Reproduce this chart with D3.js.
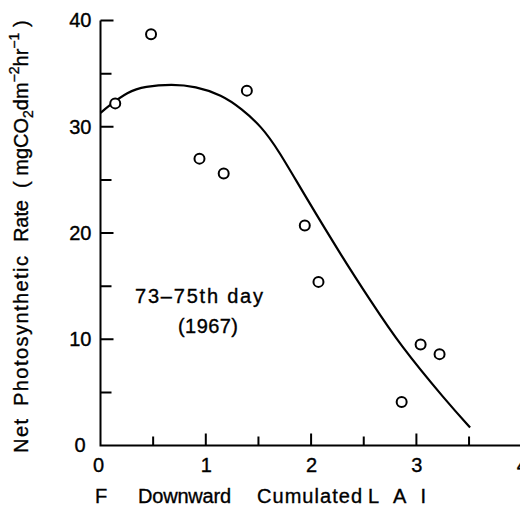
<!DOCTYPE html>
<html>
<head>
<meta charset="utf-8">
<script src="https://cdn.jsdelivr.net/npm/d3@7"></script>
<style>
  html, body { margin: 0; padding: 0; background: #fff; }
  svg { display: block; }
  text { font-family: "Liberation Sans", Arial, sans-serif; fill: #000; stroke: #000; stroke-width: 0.35px; }
</style>
</head>
<body>
<svg id="chart" width="520" height="506"></svg>
<script>
// Observed net photosynthetic rate vs. downward cumulated LAI
const obsLAI  = [0.14, 0.48, 0.94, 1.17, 1.39, 1.94, 2.07, 2.86, 3.04, 3.22];
const obsRate = [32.2, 38.7, 27.0, 25.6, 33.4, 20.7, 15.4, 4.1, 9.5, 8.6];

// Fitted response curve
const fitLAI  = [0, 0.07, 0.26, 0.42, 0.68, 0.90, 1.15, 1.34, 1.53, 1.69, 1.93, 2.31, 2.56, 2.84, 3.29, 3.51];
const fitRate = [31.3, 31.9, 33.3, 33.8, 34.0, 33.8, 33.0, 31.7, 30.0, 27.8, 23.7, 17.5, 13.7, 9.5, 4.1, 1.7];

// Axis ticks
const xMajorTicks = [0, 1, 2, 3, 4];
const xMinorTicks = [0.5, 1.5, 2.5, 3.5];
const yMajorTicks = [0, 10, 20, 30, 40];
const yMinorTicks = [5, 15, 25, 35];

const svg = d3.select("#chart");

const x = d3.scaleLinear().domain([0, 4]).range([100.5, 521.7]);
const y = d3.scaleLinear().domain([0, 40]).range([445.5, 20.5]);

// axis labels
const gx = svg.append("g").attr("transform", `translate(0,${y(0)})`)
  .call(d3.axisBottom(x).tickValues(xMajorTicks).tickSize(0)
    .tickPadding(12.5).tickFormat(d3.format("d")));
const gy = svg.append("g").attr("transform", `translate(${x(0)},0)`)
  .call(d3.axisLeft(y).tickValues(yMajorTicks).tickSize(0)
    .tickPadding(9).tickFormat(d3.format("d")));
svg.selectAll(".domain").remove();
svg.selectAll(".tick text").attr("font-size", 20)
  .attr("font-family", "'Liberation Sans', Arial, sans-serif").attr("fill", "#000");
gy.selectAll(".tick text").filter(d => d === 0).attr("dx", -6);
gx.selectAll(".tick text").filter(d => d === 0).attr("dx", -2.5);

// axis frame and inward tick marks
const frame = d3.path();
frame.moveTo(x(0), y(40)); frame.lineTo(x(0), y(0)); frame.lineTo(x(4), y(0));
xMajorTicks.filter(d => d > 0).forEach(d => { frame.moveTo(x(d), y(0)); frame.lineTo(x(d), y(0) - 12); });
xMinorTicks.forEach(d => { frame.moveTo(x(d), y(0)); frame.lineTo(x(d), y(0) - 9); });
yMajorTicks.filter(d => d > 0).forEach(d => { frame.moveTo(x(0), y(d)); frame.lineTo(x(0) + 13, y(d)); });
yMinorTicks.forEach(d => { frame.moveTo(x(0), y(d)); frame.lineTo(x(0) + 11, y(d)); });
svg.append("path").attr("class", "frame").attr("d", frame.toString())
  .attr("fill", "none").attr("stroke", "#000").attr("stroke-width", 2);

// fitted curve
const line = d3.line()
  .x(d => x(d[0])).y(d => y(d[1]))
  .curve(d3.curveBasis);
svg.append("path")
  .datum(fitLAI.map((v, i) => [v, fitRate[i]]))
  .attr("d", line)
  .attr("fill", "none").attr("stroke", "#000").attr("stroke-width", 2.2);

// observations
svg.append("g").selectAll("circle")
  .data(obsLAI.map((v, i) => [v, obsRate[i]]))
  .join("circle")
  .attr("cx", d => x(d[0])).attr("cy", d => y(d[1]))
  .attr("r", 5)
  .attr("fill", "#fff").attr("stroke", "#000").attr("stroke-width", 2);

// annotation
svg.append("text").attr("x", 135).attr("y", 303).attr("font-size", 20)
  .attr("textLength", 128).text("73–75th day");
svg.append("text").attr("x", 178).attr("y", 333).attr("font-size", 20)
  .attr("textLength", 60).text("(1967)");

// x axis title
const xt = [
  { t: "F", x: 95, len: null },
  { t: "Downward", x: 138, len: 93 },
  { t: "Cumulated", x: 257, len: 105 },
  { t: "LAI", x: 368, len: 58 }
];
xt.forEach(d => {
  const el = svg.append("text").attr("x", d.x).attr("y", 503).attr("font-size", 20).text(d.t);
  if (d.len) el.attr("textLength", d.len);
});

// y axis title (rotated, reads bottom to top)
const yt = svg.append("g").attr("transform", "translate(28,0) rotate(-90)");
yt.append("text").attr("x", -453).attr("y", 0).attr("font-size", 20)
  .attr("textLength", 34).text("Net");
yt.append("text").attr("x", -406).attr("y", 0).attr("font-size", 20)
  .attr("textLength", 150).text("Photosynthetic");
yt.append("text").attr("x", -242).attr("y", 0).attr("font-size", 20)
  .attr("textLength", 42).text("Rate");
const unit = yt.append("text").attr("x", -188).attr("y", 0).attr("font-size", 20);
unit.append("tspan").text("( mgCO");
unit.append("tspan").attr("font-size", 14).attr("dy", 5).text("2");
unit.append("tspan").attr("dy", -5).text("dm");
unit.append("tspan").attr("font-size", 14).attr("dy", -9).text("−2");
unit.append("tspan").attr("dy", 9).text("hr");
unit.append("tspan").attr("font-size", 14).attr("dy", -9).text("−1");
unit.append("tspan").attr("dy", 9).text(" )");
</script>
</body>
</html>
